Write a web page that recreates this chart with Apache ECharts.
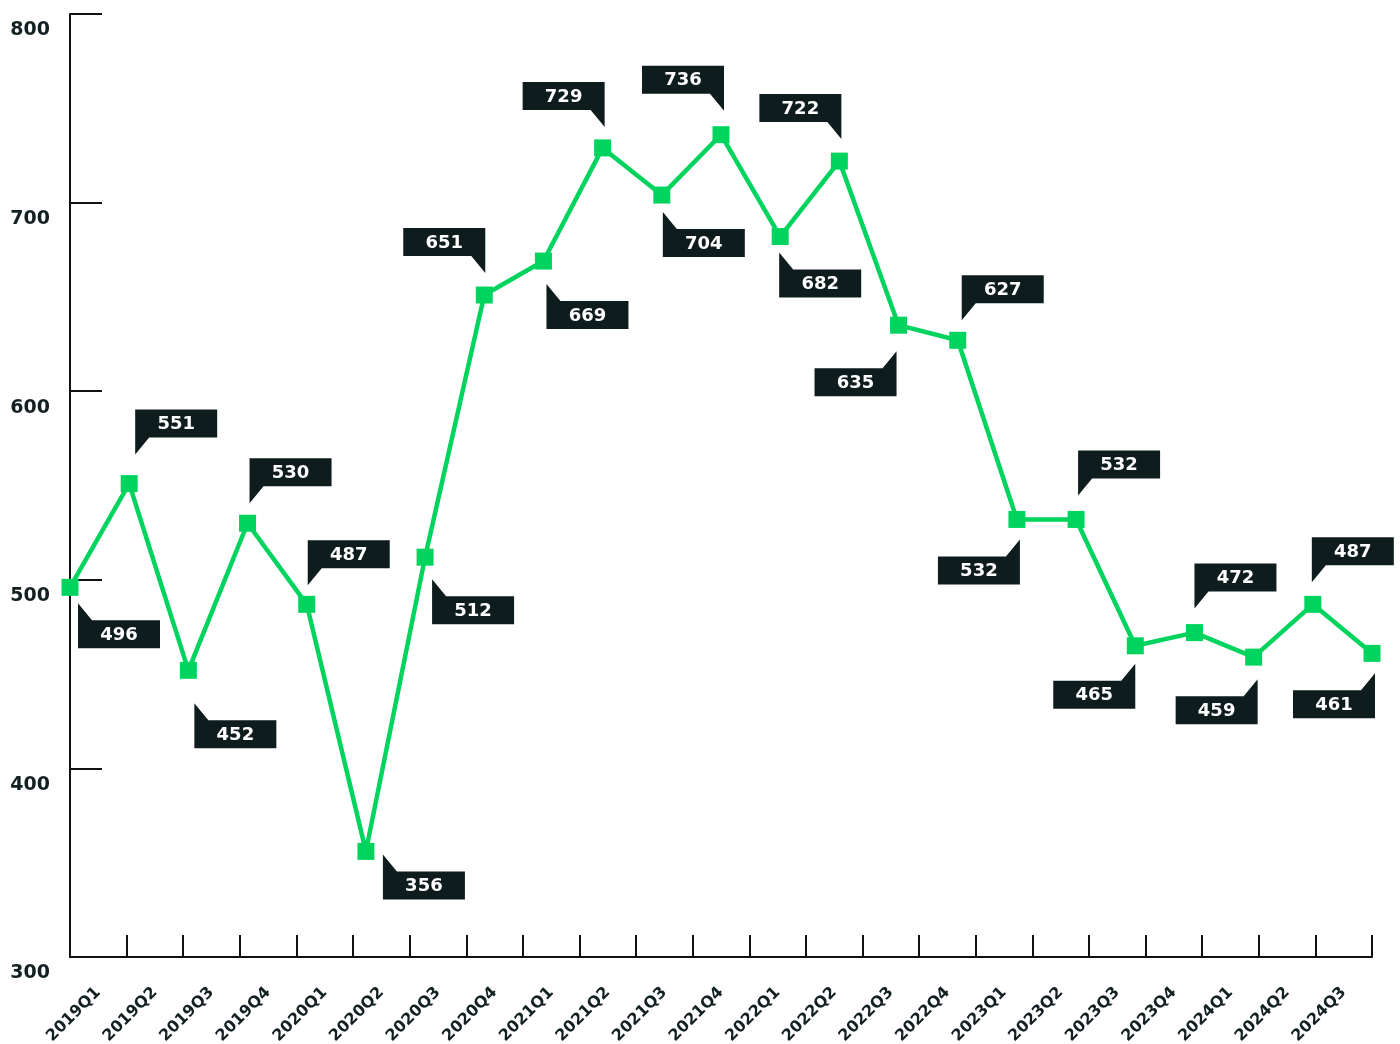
<!DOCTYPE html>
<html>
<head>
<meta charset="utf-8">
<script src="https://cdn.jsdelivr.net/npm/echarts@6/dist/echarts.min.js"></script>
<style>
  html, body { margin: 0; padding: 0; background: #ffffff; }
  #chart { width: 1400px; height: 1044px; }
</style>
</head>
<body>
<div id="chart"></div>
<script>
// Quarterly values
const quarters = ['2019Q1','2019Q2','2019Q3','2019Q4','2020Q1','2020Q2','2020Q3','2020Q4',
  '2021Q1','2021Q2','2021Q3','2021Q4','2022Q1','2022Q2','2022Q3','2022Q4',
  '2023Q1','2023Q2','2023Q3','2023Q4','2024Q1','2024Q2','2024Q3'];
const values = [496, 551, 452, 530, 487, 356, 512, 651, 669, 729, 704, 736, 682, 722, 635, 627,
  532, 532, 465, 472, 459, 487, 461];
const yTicks = [300, 400, 500, 600, 700, 800];

// Callout placement for each value tag: side of the point (u/d + r/l),
// gap from point to box edge, and horizontal shift of the box's near edge.
const labelSide = ['dr','ur','dr','ur','ur','dr','dr','ul','dr','ul','dr','ul','dr','ul','dl','ur','dl','ur','dl','ur','dl','ur','dl'];
const labelGap = [33, 46, 50, 37, 36, 20, 39, 39, 40, 38, 34, 41, 33, 39, 43, 37, 37, 41, 35, 41, 39, 39, 37];
const labelShift = [8, 6, 6, 2, 1, 17, 7, 1, 3, 2, 1, 3, -1, 2, -2, 4, 3, 2, 0, 0, 4, -1, 3];

const GREEN = '#00d45e';
const INK = '#0f1c1d';
const FONT = '"DejaVu Sans", sans-serif';

const BOX_W = 82, BOX_H = 28, TAIL_W = 14, TAIL_H = 17;

function renderTag(params, api) {
  const i = params.dataIndex;
  const v = api.value(1);
  const p = api.coord([api.value(0), v]);
  const side = labelSide[i];
  const gap = labelGap[i];
  const shift = labelShift[i];
  const up = side[0] === 'u';
  const right = side[1] === 'r';
  let L, R, T, B;
  if (right) { L = p[0] + shift; R = L + BOX_W; } else { R = p[0] + shift; L = R - BOX_W; }
  if (up) { B = p[1] - gap; T = B - BOX_H; } else { T = p[1] + gap; B = T + BOX_H; }
  let pts;
  if (up && right) {
    pts = [[L, T], [R, T], [R, B], [L + TAIL_W, B], [L, B + TAIL_H]];
  } else if (up && !right) {
    pts = [[L, T], [R, T], [R, B + TAIL_H], [R - TAIL_W, B], [L, B]];
  } else if (!up && right) {
    pts = [[L, T - TAIL_H], [L + TAIL_W, T], [R, T], [R, B], [L, B]];
  } else {
    pts = [[L, T], [R - TAIL_W, T], [R, T - TAIL_H], [R, B], [L, B]];
  }
  return {
    type: 'group',
    children: [
      { type: 'polygon', shape: { points: pts }, style: { fill: INK } },
      {
        type: 'text',
        style: {
          text: String(v),
          x: (L + R) / 2,
          y: (T + B) / 2 + 1,
          align: 'center',
          verticalAlign: 'middle',
          fill: '#ffffff',
          font: 'bold 18px ' + FONT
        }
      }
    ]
  };
}

const chart = echarts.init(document.getElementById('chart'), null, { renderer: 'canvas' });
chart.setOption({
  backgroundColor: '#ffffff',
  animation: false,
  grid: { left: 70, right: 28, top: 14, bottom: 87, containLabel: false, outerBoundsMode: 'none' },
  xAxis: [
    {
      type: 'category',
      data: quarters,
      boundaryGap: true,
      axisLine: { show: true, lineStyle: { color: '#111111', width: 2 } },
      axisTick: { show: true, inside: true, length: 22, lineStyle: { color: '#111111', width: 2 } },
      axisLabel: {
        rotate: 45,
        margin: 33,
        color: '#132022',
        fontFamily: FONT,
        fontWeight: 'bold',
        fontSize: 16
      },
      splitLine: { show: false }
    },
    {
      type: 'category',
      data: quarters,
      boundaryGap: false,
      show: false
    }
  ],
  yAxis: {
    type: 'value',
    min: yTicks[0],
    max: yTicks[yTicks.length - 1],
    interval: 100,
    axisLine: { show: true, lineStyle: { color: '#111111', width: 2 } },
    axisTick: { show: true, inside: true, length: 32, lineStyle: { color: '#111111', width: 2 } },
    axisLabel: {
      margin: 20,
      color: '#132022',
      fontFamily: FONT,
      fontWeight: 'bold',
      fontSize: 19,
      verticalAlign: 'top',
      lineHeight: 33
    },
    splitLine: { show: false }
  },
  series: [
    {
      type: 'line',
      xAxisIndex: 1,
      data: values,
      clip: false,
      symbol: 'rect',
      symbolSize: 17,
      showAllSymbol: true,
      lineStyle: { color: GREEN, width: 4.5 },
      itemStyle: { color: GREEN },
      label: { show: false },
      z: 3
    },
    {
      type: 'custom',
      xAxisIndex: 1,
      data: values.map((v, i) => [i, v]),
      renderItem: renderTag,
      clip: false,
      z: 4
    }
  ]
});
</script>
</body>
</html>
